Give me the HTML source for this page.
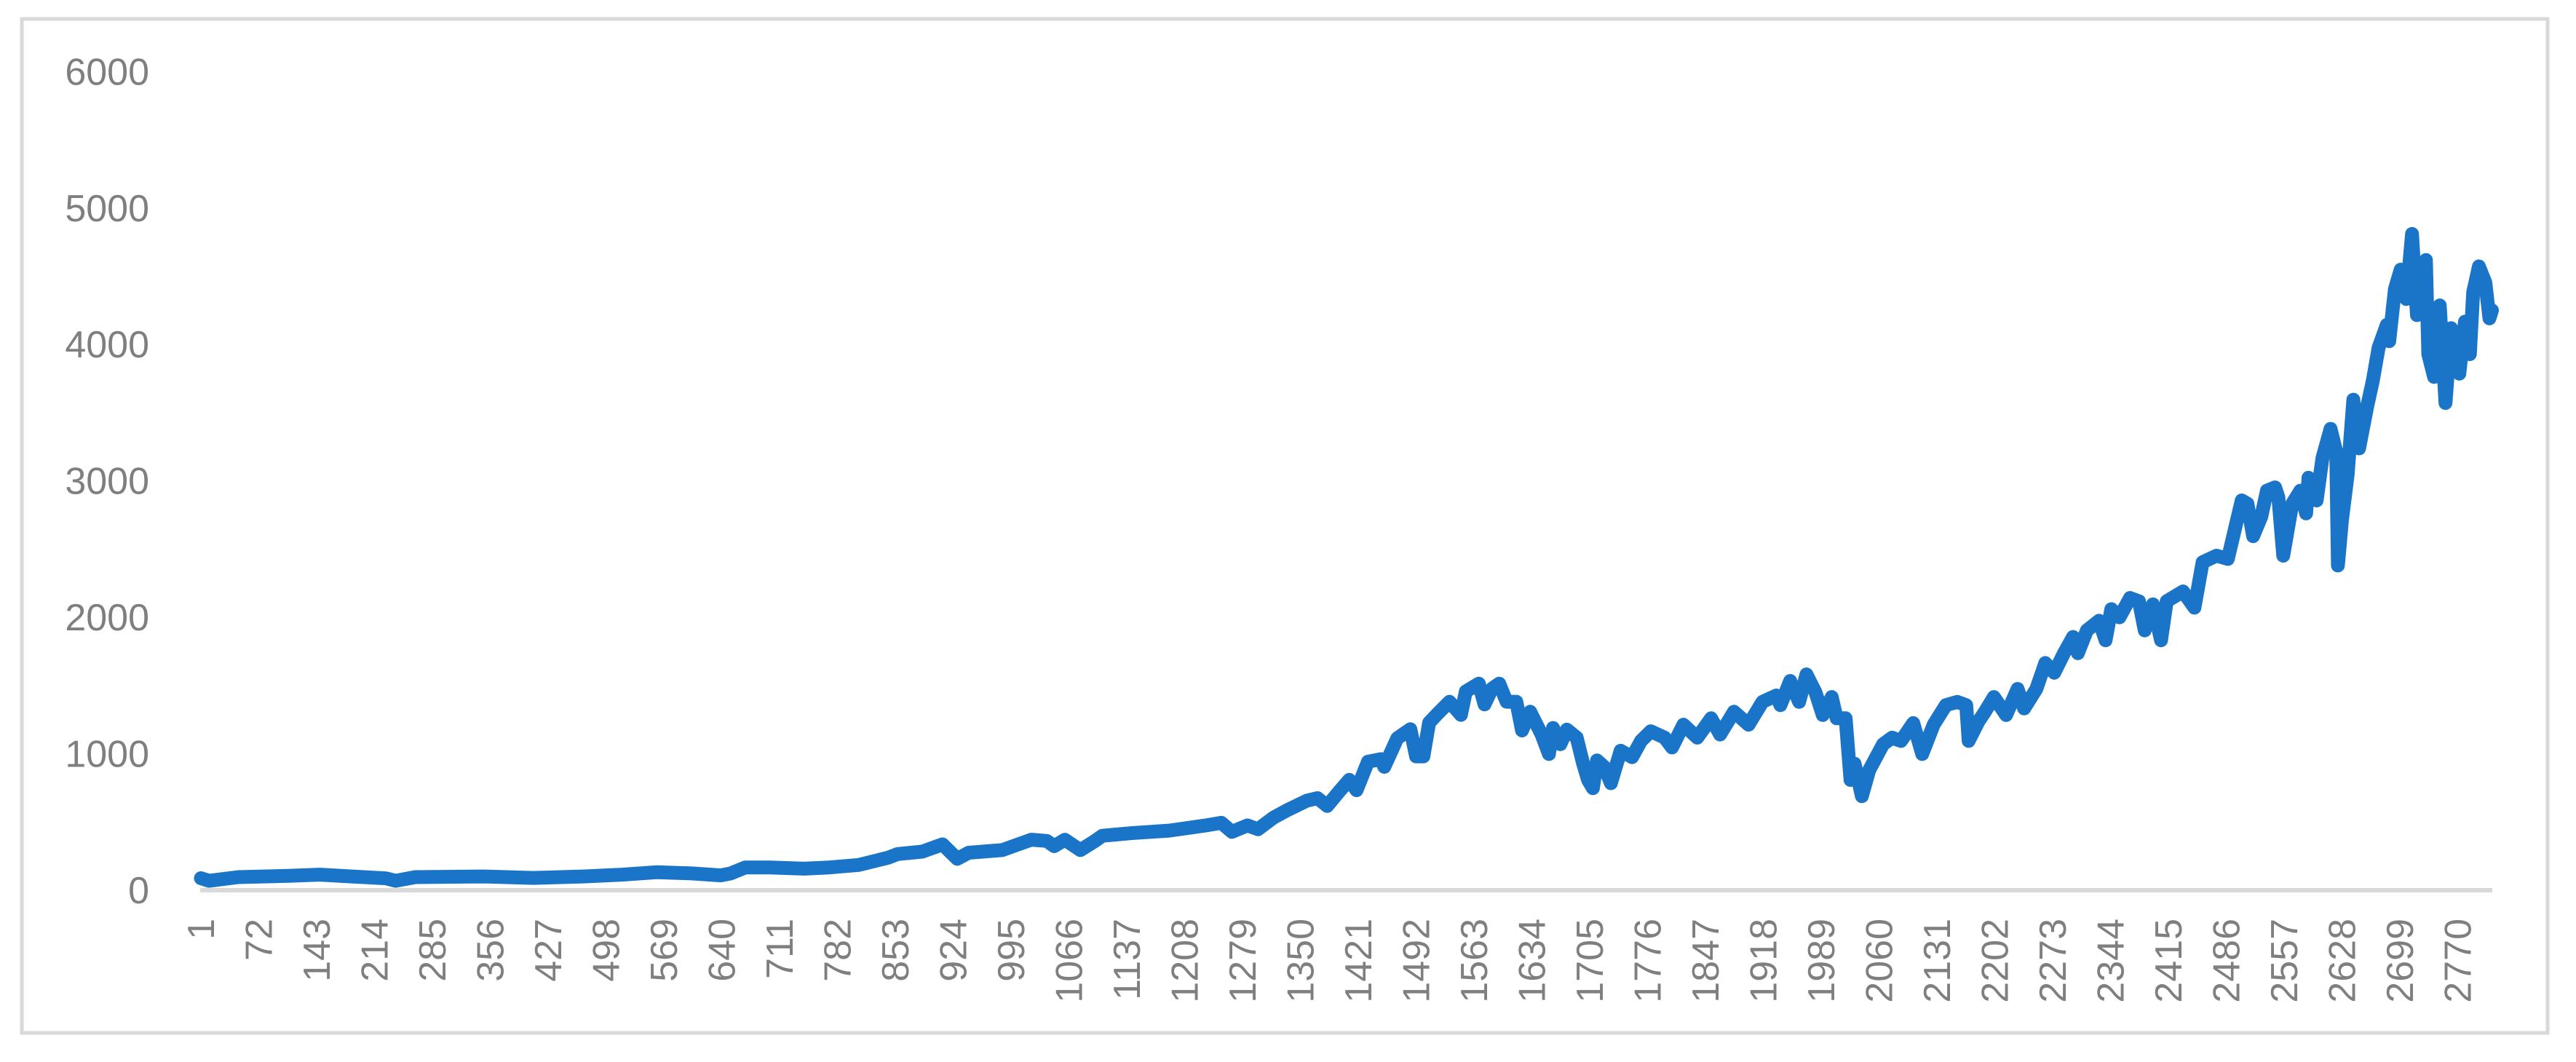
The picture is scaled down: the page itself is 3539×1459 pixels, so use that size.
<!DOCTYPE html>
<html><head><meta charset="utf-8"><style>
html,body{margin:0;padding:0;background:#fff;}
svg{display:block;}
text{font-family:"Liberation Sans",sans-serif;fill:#7f7f7f;}
</style></head><body>
<svg id="chart" width="3539" height="1459" viewBox="0 0 3539 1459">
<rect x="30" y="26" width="3470" height="1393" fill="#fff" stroke="#d9d9d9" stroke-width="5"/>
<g id="yaxis"></g>
<g id="xaxis"></g>
<line x1="275" y1="1223" x2="3424" y2="1223" stroke="#d9d9d9" stroke-width="6"/>
<path id="series" fill="none" stroke="#1a74c8" stroke-width="19" stroke-linejoin="round" stroke-linecap="round"/>
</svg>
<script>
const pointIndex = [1,11,47,108,147,186,228,240,264,349,409,470,518,560,603,639,651,669,699,741,772,808,844,856,886,911,920,929,943,984,1020,1039,1048,1061,1080,1098,1107,1143,1189,1234,1253,1266,1285,1298,1317,1335,1358,1371,1383,1399,1410,1419,1433,1449,1453,1469,1485,1492,1501,1508,1517,1533,1547,1553,1569,1576,1585,1594,1603,1615,1622,1632,1638,1646,1655,1660,1669,1677,1689,1697,1703,1709,1714,1723,1731,1743,1757,1768,1780,1797,1806,1820,1837,1854,1865,1882,1900,1917,1934,1939,1951,1962,1971,1982,1991,2002,2008,2019,2025,2030,2039,2048,2065,2076,2087,2102,2113,2127,2142,2156,2167,2170,2182,2190,2201,2216,2230,2238,2253,2264,2275,2287,2298,2304,2315,2330,2338,2345,2355,2368,2379,2386,2396,2406,2413,2433,2447,2457,2474,2488,2505,2512,2519,2529,2536,2546,2550,2556,2567,2577,2584,2587,2597,2604,2614,2621,2623,2628,2635,2642,2649,2659,2666,2673,2683,2686,2693,2700,2707,2714,2720,2731,2734,2741,2748,2755,2762,2772,2779,2785,2789,2796,2804,2809,2812];
const pointValue = [88,69,96,105,114,101,87,69,96,101,90,101,114,132,123,109,123,167,167,158,167,185,238,265,283,336,283,230,275,294,370,361,323,370,294,361,399,418,437,475,494,428,475,447,532,590,656,675,618,733,809,733,942,961,904,1114,1180,981,981,1228,1285,1381,1285,1457,1514,1362,1476,1514,1381,1381,1171,1308,1237,1141,998,1189,1070,1177,1118,927,808,748,951,903,784,1022,975,1094,1165,1118,1046,1213,1118,1260,1141,1308,1213,1380,1427,1356,1534,1380,1582,1451,1284,1416,1260,1260,808,927,689,880,1070,1118,1094,1225,998,1213,1356,1380,1356,1094,1237,1308,1416,1284,1475,1332,1475,1665,1594,1737,1856,1737,1904,1975,1832,2060,2000,2142,2118,1904,2095,1832,2118,2190,2071,2404,2452,2428,2857,2833,2595,2738,2928,2952,2880,2452,2833,2928,2762,3023,2857,3166,3381,3214,2380,2714,3047,3595,3238,3547,3738,3976,4143,4024,4405,4548,4333,4810,4215,4619,3929,3762,4286,3571,4119,3786,4167,3929,4381,4572,4453,4191,4250];
const yTicks = [0,1000,2000,3000,4000,5000,6000];
const xTickLabels = [];
for (let k = 1; k <= 2812; k += 71) xTickLabels.push(k);

const NS = "http://www.w3.org/2000/svg";
function xScale(i){ return 276 + (i - 1) * 1.1197; }
function yScale(v){ return 1223 - v * 0.18745; }

const yaxis = document.getElementById('yaxis');
yTicks.forEach(v => {
  const t = document.createElementNS(NS, 'text');
  t.setAttribute('x', 205);
  t.setAttribute('y', yScale(v) + 18);
  t.setAttribute('text-anchor', 'end');
  t.setAttribute('font-size', '52');
  t.textContent = v;
  
  
  yaxis.appendChild(t);
});

const xaxis = document.getElementById('xaxis');
xTickLabels.forEach(k => {
  const x = xScale(k) + 18;
  const t = document.createElementNS(NS, 'text');
  t.setAttribute('transform', 'translate(' + x + ',1262) rotate(-90)');
  t.setAttribute('text-anchor', 'end');
  t.setAttribute('font-size', '52');
  t.textContent = k;
  
  
  xaxis.appendChild(t);
});

let d = '';
pointIndex.forEach((i, n) => {
  d += (n ? 'L' : 'M') + xScale(i).toFixed(1) + ',' + yScale(pointValue[n]).toFixed(1);
});
document.getElementById('series').setAttribute('d', d);
</script>
</body></html>
